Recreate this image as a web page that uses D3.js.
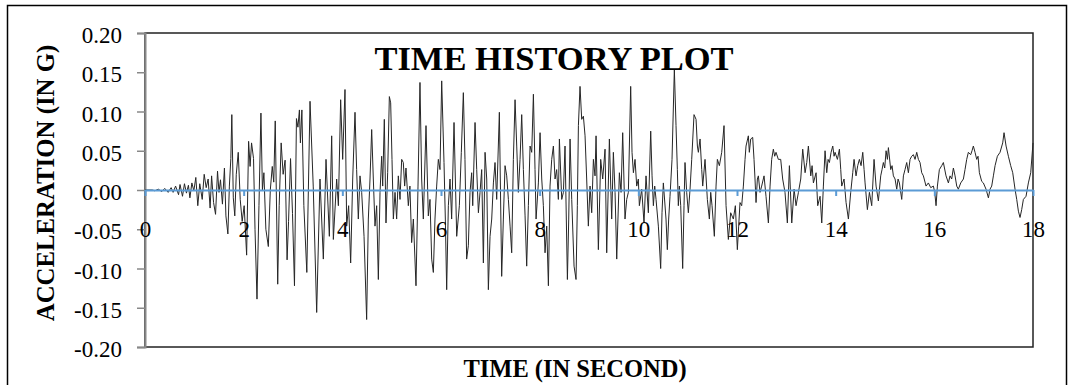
<!DOCTYPE html>
<html><head><meta charset="utf-8">
<script src="https://cdn.jsdelivr.net/npm/d3@7/dist/d3.min.js"></script>
<style>
html,body{margin:0;padding:0;background:#fff;}
svg{display:block;}
text{font-family:"Liberation Serif","Times New Roman",serif;}
</style></head>
<body>
<svg id="chart" width="1070" height="385"></svg>
<script>
// ---- DATA ----
const chartTitle = "TIME HISTORY PLOT";
const xTitle = "TIME (IN SECOND)";
const yTitle = "ACCELERATION (IN G)";
const xTicks = [0, 2, 4, 6, 8, 10, 12, 14, 16, 18];
const yTicks = [-0.20, -0.15, -0.10, -0.05, 0.00, 0.05, 0.10, 0.15, 0.20];

const times = [
0,0.15,0.2,0.27,0.34,0.4,0.47,0.53,0.57,0.62,0.68,0.71,0.76,0.8,0.84,0.88,0.91,0.95,0.99,1.03,1.07,1.11,1.16,1.2,1.24,1.28,1.32,1.35,1.39,1.43,1.47,1.5,1.53,1.57,1.61,1.64,
1.68,1.71,1.74,1.76,1.79,1.82,1.85,1.89,1.93,1.97,2.01,2.06,2.1,2.13,2.16,2.2,2.23,2.27,2.31,2.35,2.38,2.41,2.45,2.5,2.54,2.58,2.61,2.64,2.69,2.72,2.76,2.8,2.84,2.88,2.91,2.95,2.99,3.03,3.07,3.1,3.13,3.15,3.18,3.22,3.28,
3.345,3.41,3.48,3.547,3.615,3.669,3.737,3.784,3.818,3.885,3.92,3.966,4.007,4.054,4.088,4.128,4.169,4.21,4.257,4.29,4.324,4.358,4.392,4.44,4.493,4.527,4.561,4.595,4.628,4.662,4.696,4.73,4.764,4.797,4.818,4.851,4.885,4.919,4.953,4.98,5.007,5.034,5.068,5.101,5.135,5.169,5.203,5.236,5.263,5.29,5.338,5.37,5.405,5.44,5.493,5.534,5.574,5.608,5.642,5.696,5.743,5.777,5.811,5.845,5.878,5.912,5.946,5.98,6.014,6.061,6.088,6.115,6.149,6.183,6.216,6.264,6.291,6.318,6.372,6.412,6.453,6.486,6.52,6.554,6.588,6.622,
6.643,6.69,6.724,6.758,6.791,6.825,6.859,6.893,6.927,6.96,6.994,7.028,7.062,7.095,7.129,7.183,7.23,7.264,7.298,7.332,7.366,7.4,7.433,7.467,7.501,7.535,7.568,7.602,7.636,7.67,7.704,7.737,7.771,7.805,7.839,7.873,7.906,7.927,7.974,8.008,8.042,8.075,8.109,8.143,8.177,8.21,8.244,8.278,8.312,8.345,8.379,8.4,8.447,8.481,8.514,8.562,8.589,8.616,8.65,8.697,8.737,8.764,8.785,8.818,8.852,8.886,8.92,8.953,8.987,9.021,9.055,9.089,9.122,9.143,9.19,9.237,9.278,9.325,9.359,9.413,9.46,9.494,9.528,9.562,9.616,9.65,9.683,9.73,9.764,9.798,9.845,9.872,9.9,9.933,9.967,10.0,
10.021,10.068,10.115,10.156,10.203,10.251,10.278,10.305,10.332,10.359,10.406,10.453,10.48,10.507,10.561,10.588,10.615,10.642,10.683,10.73,10.764,10.791,10.811,10.832,10.859,10.899,10.926,10.946,10.98,11.014,11.048,11.082,11.129,11.17,11.197,11.217,11.251,11.285,11.305,11.352,11.399,11.44,11.467,11.494,11.541,11.575,11.602,11.643,11.69,11.737,11.778,11.825,11.872,11.926,11.967,12.007,12.034,12.061,12.095,12.129,12.163,12.183,12.23,12.25,12.278,12.318,12.345,12.365,12.386,12.413,12.433,12.467,12.5,12.548,12.588,12.636,12.67,12.703,12.737,12.764,12.791,12.838,12.886,12.926,12.973,13.021,
13.062,13.11,13.157,13.197,13.245,13.292,13.332,13.38,13.414,13.447,13.495,13.522,13.549,13.603,13.636,13.684,13.718,13.751,13.785,13.819,13.846,13.873,13.907,13.941,13.968,13.988,14.035,14.076,14.103,14.123,14.17,14.211,14.258,14.305,14.346,14.373,14.413,14.447,14.481,14.515,14.549,14.576,14.596,14.643,14.684,14.731,14.778,14.819,14.866,14.913,14.94,14.967,14.994,15.022,15.049,15.069,15.116,15.143,15.17,15.204,15.238,15.265,15.292,
15.339,15.373,15.406,15.44,15.474,15.508,15.541,15.575,15.609,15.643,15.677,15.71,15.744,15.778,15.832,15.879,15.927,15.981,16.008,16.035,16.062,16.102,16.15,16.183,16.237,16.285,16.318,16.352,16.386,16.42,16.454,16.487,16.535,16.589,16.622,16.656,16.69,16.737,16.764,16.791,16.825,16.859,16.886,16.913,16.96,16.994,17.048,17.096,17.129,17.163,17.197,17.231,17.278,17.332,17.386,17.413,17.454,17.501,17.548,17.589,17.636,17.67,17.704,17.737,17.771,17.805,17.859,17.906,17.954,18.0
];

const accel = [
0,0,-0.001,0.001,-0.002,0.002,-0.003,0.003,-0.003,0.005,-0.006,0.007,-0.008,0.008,-0.004,0.006,-0.01,0.009,-0.001,0.016,-0.02,0.008,-0.012,0.02,0.003,0.014,-0.023,0.018,-0.016,-0.031,0.024,-0.003,0.013,-0.018,0.028,-0.033,
-0.056,0.005,0.04,0.096,-0.01,-0.033,0.02,0.048,-0.012,-0.04,-0.02,-0.083,0.062,0.03,0.06,0.04,-0.05,-0.139,-0.02,0.098,0.0,0.022,-0.05,-0.072,0.0,0.03,0.01,0.088,-0.12,-0.02,0.06,0.02,0.038,-0.089,-0.04,0.04,-0.03,-0.122,0.091,0.08,0.102,0.06,0.102,-0.02,-0.105,
0.113,0.005,-0.156,0.014,-0.088,0.039,-0.059,0.069,-0.063,0.014,-0.02,0.115,0.039,0.128,-0.046,-0.02,-0.093,0.014,0.099,0.026,-0.037,0.018,-0.003,-0.059,-0.165,-0.037,0.014,0.077,0.014,-0.046,-0.02,-0.114,-0.003,0.043,0.005,0.09,-0.042,0.022,0.119,0.111,0.039,-0.037,-0.003,-0.037,0.018,-0.012,0.039,0.035,0.005,0.028,-0.02,0.005,-0.067,-0.037,-0.122,0.005,0.137,0.014,-0.037,0.082,-0.033,-0.012,-0.088,-0.105,-0.037,0.005,0.039,0.026,0.139,0.035,-0.037,-0.127,-0.02,0.014,-0.037,0.086,0.014,-0.059,-0.02,0.048,0.124,0.039,-0.088,-0.071,-0.003,0.022,
-0.02,0.086,0.026,-0.029,-0.003,0.026,-0.093,0.048,0.014,-0.127,-0.059,-0.037,0.009,0.035,-0.012,0.099,-0.11,-0.037,0.031,0.018,-0.012,-0.046,-0.08,0.039,0.115,0.056,-0.003,0.039,0.096,0.026,-0.033,-0.097,-0.02,0.056,0.048,0.122,0.026,-0.037,0.009,0.073,0.014,-0.02,-0.08,-0.046,-0.122,0.005,0.039,0.056,0.014,0.026,-0.012,0.065,-0.012,-0.003,0.056,-0.114,-0.037,0.065,-0.012,-0.097,-0.114,-0.02,0.082,0.132,0.09,0.094,0.069,0.014,-0.046,0.005,-0.029,0.039,0.018,0.069,-0.076,0.039,0.014,0.052,-0.08,0.065,-0.037,0.048,-0.003,-0.088,0.022,-0.003,0.073,-0.037,-0.012,-0.003,0.132,0.048,0.022,0.039,0.005,0.014,
-0.02,0.001,-0.042,0.018,-0.029,0.075,0.018,-0.02,0.005,-0.012,-0.046,-0.1,-0.029,0.009,-0.037,-0.076,-0.037,-0.008,0.039,0.154,0.082,0.026,-0.02,0.005,-0.02,-0.1,-0.02,0.035,-0.003,-0.029,0.001,0.039,0.096,0.09,0.056,0.048,0.065,0.026,0.005,0.039,-0.012,-0.037,-0.003,-0.02,-0.059,0.005,0.039,0.031,0.048,0.082,-0.02,-0.063,-0.029,-0.037,-0.02,-0.076,-0.046,-0.016,-0.02,0.005,0.039,0.056,0.069,0.048,0.065,0.067,0.039,0.014,-0.016,0.014,0.018,-0.003,0.005,0.018,-0.008,-0.042,0.005,0.039,0.052,0.043,0.048,0.039,0.039,0.014,-0.003,-0.042,
0.031,-0.042,0.001,-0.02,-0.003,0.014,0.052,0.022,0.035,0.056,0.018,0.031,0.009,0.022,-0.02,-0.008,-0.042,0.005,0.05,0.022,0.039,0.035,0.048,0.056,0.043,0.048,0.039,0.052,0.026,0.005,0.014,-0.016,-0.037,-0.003,0.022,0.039,0.018,0.031,0.039,0.031,0.048,0.026,0.009,-0.025,-0.003,-0.02,0.039,0.005,-0.014,0.018,0.026,0.035,0.028,0.05,0.039,0.054,0.026,0.031,0.018,0.014,0.001,0.014,0.009,
-0.012,0.018,0.026,0.035,0.022,0.039,0.043,0.045,0.039,0.048,0.039,0.035,0.022,0.018,0.005,0.009,0.003,0.005,-0.003,-0.02,0.005,0.026,0.031,0.035,0.018,0.009,0.018,0.014,0.028,0.018,0.005,0.001,0.009,0.014,0.026,0.039,0.048,0.045,0.05,0.056,0.048,0.039,0.043,0.022,0.011,0.009,0.001,-0.01,0.001,0.005,0.018,0.031,0.043,0.048,0.06,0.073,0.056,0.043,0.031,0.022,0.001,-0.012,-0.027,-0.035,-0.025,-0.012,-0.008,0.009,0.022,0.06
];

// ---- LAYOUT ----
const plot = {left: 145, right: 1033, top: 33, bottom: 347};
const svg = d3.select("#chart");

const x = d3.scaleLinear().domain([0, 18]).range([plot.left, plot.right]);
const y = d3.scaleLinear().domain([-0.20, 0.20]).range([plot.bottom, plot.top]);

// outer chart border
svg.append("rect").attr("x", 7.5).attr("y", 5.5).attr("width", 1059).attr("height", 420)
  .attr("fill", "none").attr("stroke", "#000").attr("stroke-width", 1.5);

// plot area border
svg.append("rect").attr("x", plot.left).attr("y", plot.top)
  .attr("width", plot.right - plot.left).attr("height", plot.bottom - plot.top)
  .attr("fill", "none").attr("stroke", "#222").attr("stroke-width", 1.5);

// Y axis
const yAxis = svg.append("g").attr("transform", `translate(${plot.left},0)`)
  .call(d3.axisLeft(y).tickValues(yTicks).tickSize(8).tickPadding(15)
    .tickFormat(d => d3.format(".2f")(d).replace("−", "-")));
yAxis.select(".domain").attr("stroke", "#888").attr("stroke-width", 2);
yAxis.selectAll(".tick line").attr("stroke", "#888").attr("stroke-width", 1.5);
yAxis.selectAll(".tick text").attr("fill", "#000").attr("font-size", 23)
  .attr("font-family", "Liberation Serif, Times New Roman, serif").attr("dy", "0.42em");

// series
const pts = times.map((t, i) => [t, accel[i]]);
svg.append("path").datum(pts)
  .attr("fill", "none").attr("stroke", "#262626").attr("stroke-width", 1)
  .attr("d", d3.line().x(d => x(d[0])).y(d => y(d[1])));

// X axis at zero
const xAxis = svg.append("g").attr("transform", `translate(0,${y(0)})`)
  .call(d3.axisBottom(x).tickValues(xTicks).tickSize(6).tickPadding(25).tickSizeOuter(0));
xAxis.select(".domain").attr("stroke", "#5b9bd5").attr("stroke-width", 1.8);
xAxis.selectAll(".tick line").attr("stroke", "#5b9bd5").attr("stroke-width", 2);
xAxis.selectAll(".tick text").attr("fill", "#000").attr("font-size", 23)
  .attr("font-family", "Liberation Serif, Times New Roman, serif");

// titles
svg.append("text").attr("x", 554).attr("y", 70).attr("text-anchor", "middle")
  .attr("font-weight", "bold").attr("font-size", 34.5).text(chartTitle);
svg.append("text").attr("x", 575).attr("y", 377).attr("text-anchor", "middle")
  .attr("font-weight", "bold").attr("font-size", 24.5).text(xTitle);
svg.append("text").attr("transform", "translate(54,183) rotate(-90)").attr("text-anchor", "middle")
  .attr("font-weight", "bold").attr("font-size", 24.8).text(yTitle);
</script>
</body></html>
